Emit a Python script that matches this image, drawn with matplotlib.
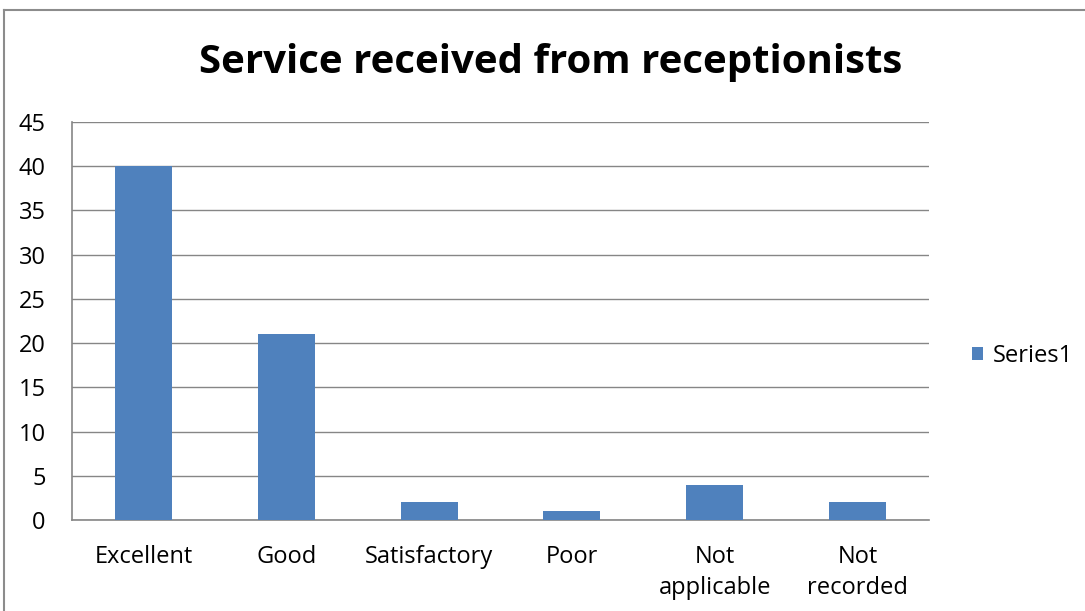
import matplotlib
matplotlib.use("Agg")
import matplotlib.pyplot as plt
from matplotlib.lines import Line2D
from matplotlib.patches import Patch

categories = ["Excellent", "Good", "Satisfactory", "Poor", "Not\napplicable", "Not\nrecorded"]
values = [40, 21, 2, 1, 4, 2]
yticks = [0, 5, 10, 15, 20, 25, 30, 35, 40, 45]
series_name = "Series1"
title = "Service received from receptionists"

W, H = 1085, 611
DPI = 100
plt.rcParams['font.family'] = ['Open Sans', 'DejaVu Sans']

fig = plt.figure(figsize=(W / DPI, H / DPI), dpi=DPI)
fig.patch.set_facecolor("white")

# plot area in pixels: left 72, right 929, top 122, bottom 520
left, right, top, bottom = 72, 929, 122, 520
ax = fig.add_axes([left / W, 1 - bottom / H, (right - left) / W, (bottom - top) / H])

bar_color = "#4F81BD"
x = list(range(len(categories)))
ax.bar(x, values, width=0.4, color=bar_color, zorder=3)

ax.set_xlim(-0.5, len(categories) - 0.5)
ax.set_ylim(0, 45)
ax.set_yticks(yticks)
ax.set_xticks(x)
ax.set_xticklabels(categories, fontsize=17, linespacing=1.4)
ax.tick_params(axis="y", labelsize=17, length=0, pad=19)
ax.tick_params(axis="x", length=0, pad=18)
for lbl in ax.get_yticklabels():
    lbl.set_horizontalalignment("right")

grid_color = "#868686"
ax.yaxis.grid(True, color=grid_color, linewidth=1.0, zorder=0)
ax.set_axisbelow(True)
for s in ["top", "right"]:
    ax.spines[s].set_visible(False)
ax.spines["left"].set_color(grid_color)
ax.spines["bottom"].set_color(grid_color)
ax.spines["left"].set_linewidth(1.2)
ax.spines["bottom"].set_linewidth(1.2)

fig.text(551 / W, 1 - 63 / H, title, ha="center", va="center",
         fontsize=29, fontweight="bold")

leg = fig.legend(handles=[Patch(facecolor=bar_color, edgecolor="none", label=series_name)],
                 loc="center left", bbox_to_anchor=(951 / W, 1 - 356 / H),
                 frameon=False, fontsize=17, handlelength=0.45, handleheight=0.45,
                 handletextpad=0.4)

# chart border (top and left edges)
fig.add_artist(Line2D([3.5 / W, 1.0], [1 - 10 / H, 1 - 10 / H], color="#8C8C8C", linewidth=1.5))
fig.add_artist(Line2D([3.5 / W, 3.5 / W], [0, 1 - 10 / H], color="#8C8C8C", linewidth=1.5))

fig.savefig("out.png", dpi=DPI)
